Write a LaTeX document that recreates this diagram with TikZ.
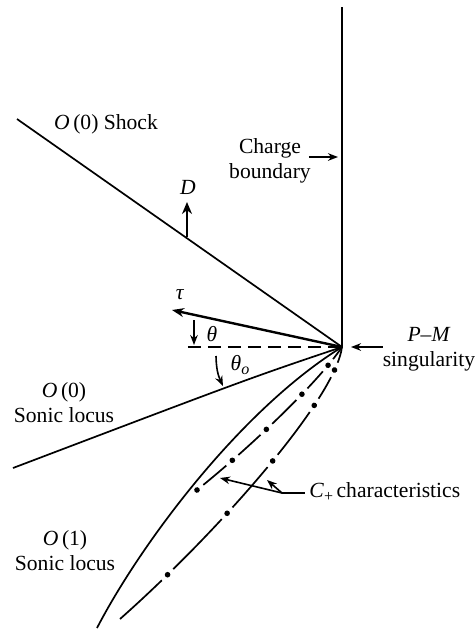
\documentclass[tikz,border=0pt]{standalone}
\usepackage{fontspec}
\setmainfont{Liberation Serif}
\usetikzlibrary{arrows.meta,decorations.markings}
\begin{document}
\begin{tikzpicture}[x=0.5pt,y=-0.5pt,
  lab/.style={font=\fontsize{10.8}{12.6}\selectfont, inner sep=0pt, align=center},
  ln/.style={line width=0.85pt},
  arr/.style={line width=0.8pt,-{Stealth[length=5pt,width=3.8pt]}},
  dotc/.style={circle,fill,inner sep=0pt,minimum size=2.8pt},
  dotsat/.style={postaction={decorate,decoration={markings,
     mark=at position #1 with {\fill (0,0) circle (1.4pt);}}}}]
\useasboundingbox (0,0) rectangle (475,629);
% key points
\coordinate (pm) at (342,347);
\coordinate (cbtop) at (342,7);
\coordinate (shk) at (17,119);
\coordinate (sl0) at (13,468);
\coordinate (sl1) at (97,628);
\coordinate (c1end) at (197,490);
\coordinate (c2end) at (120,619);
% charge boundary and shock
\draw[ln] (cbtop) -- (pm);
\draw[ln] (shk) -- (pm);
% O(0) sonic locus
\draw[ln] (pm) .. controls (250,378) .. (sl0);
% O(1) sonic locus
\draw[ln] (pm) .. controls (240,410) and (140,545) .. (sl1);
% dashed horizontal
\coordinate (hz) at (188,347);
\draw[line width=0.85pt, dash pattern=on 6.5pt off 3.5pt] (hz) -- (pm);
% tau arrow
\coordinate (tautip) at (172,310);
\draw[line width=1.2pt,-{Stealth[length=6pt,width=4.5pt]}] (pm) -- (tautip);
\node[lab] (taulab) at (180,295) {\textit{τ}};
% D arrow
\coordinate (dfoot) at (187,237);
\coordinate (dtip) at (187,202);
\draw[line width=1pt,-{Stealth[length=6pt,width=5pt]}] (dfoot) -- (dtip);
\node[lab] (dlab) at (188,187) {\textit{D}};
% theta
\coordinate (th1) at (194,320);
\coordinate (th2) at (194,345);
\draw[arr] (th1) -- (th2);
\node[lab] (thlab) at (212,334) {\textit{θ}};
% theta_o
\coordinate (to1) at (216,356);
\coordinate (to2) at (223,386);
\draw[arr] (to1) to[bend right=12] (to2);
\node[lab] (tolab) at (240,365) {\textit{θ}\raisebox{-0.45ex}{\fontsize{8}{9}\selectfont\textit{o}}};
% C+ characteristics, curve 1
\draw[line width=0.85pt,
  dash pattern=on 7.5pt off 8pt on 11.5pt off 8pt on 17pt off 8pt on 15pt off 8pt on 15pt off 30pt,
  dotsat=11.5pt, dotsat=31pt, dotsat=56pt, dotsat=79pt, dotsat=1]
  (pm) .. controls (317,384) and (247,450) .. (c1end);
% curve 2
\draw[line width=0.85pt,
  dash pattern=on 8.15pt off 8pt on 12.4pt off 8pt on 26.7pt off 8pt on 26.7pt off 8pt on 34.8pt off 8pt on 60pt off 10pt,
  dotsat=12.15pt, dotsat=32.55pt, dotsat=67.25pt, dotsat=101.95pt, dotsat=144.75pt]
  (pm) .. controls (335,400) and (215,535) .. (c2end);
% C+ label and leaders
\node[lab, anchor=west] (clab) at (309,492) {\textit{C}\raisebox{-0.45ex}{\fontsize{8}{9}\selectfont +}\,characteristics};
\coordinate (cj) at (282,493);
\coordinate (ca1) at (220,478);
\coordinate (ca2) at (267,480);
\draw[line width=0.8pt] (clab.west) ++(-4,1) coordinate (ce) -- (cj);
\draw[arr] (cj) -- (ca1);
\draw[arr] (cj) -- (ca2);
% labels
\node[lab] (shocklab) at (106,124) {\textit{O}\,(0) Shock};
\node[lab] (cblab) at (270,161) {Charge\\boundary};
\coordinate (cbA) at (309,157);
\coordinate (cbB) at (338,157);
\draw[arr] (cbA) -- (cbB);
\node[lab] (pmlab) at (429,349) {\textit{P–M}\\singularity};
\coordinate (pmA) at (383,347);
\coordinate (pmB) at (351,347);
\draw[arr] (pmA) -- (pmB);
\node[lab] (s0lab) at (64,403) {\textit{O}\,(0)\\Sonic locus};
\node[lab] (s1lab) at (65,551) {\textit{O}\,(1)\\Sonic locus};
\end{tikzpicture}
\end{document}
